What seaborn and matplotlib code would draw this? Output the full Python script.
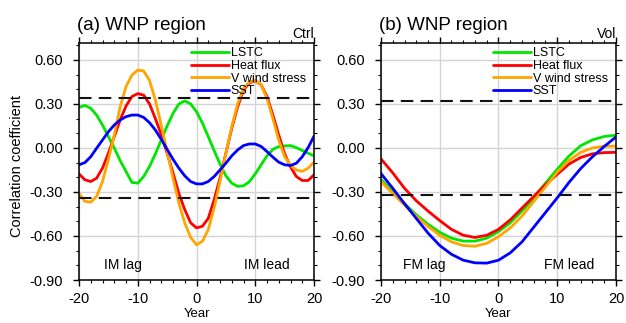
import matplotlib
matplotlib.use("Agg")
import matplotlib.pyplot as plt
from matplotlib.ticker import MultipleLocator
import seaborn as sns
import pandas as pd

# lag/lead years
years_a = list(range(-20, 21))
years_b = list(range(-20, 21, 2))

# (a) Ctrl, one value per year
lstc_a = [0.276, 0.29, 0.27, 0.224, 0.156, 0.077, 0.0, -0.086, -0.16, -0.235, -0.24,
          -0.195, -0.127, -0.04, 0.054, 0.15, 0.235, 0.30, 0.32, 0.30, 0.247,
          0.17, 0.077, -0.018, -0.11, -0.19, -0.24, -0.262, -0.258, -0.23, -0.177,
          -0.115, -0.054, -0.01, 0.01, 0.014, 0.016, 0.002, -0.018, -0.036, -0.054]
heat_a = [-0.177, -0.217, -0.229, -0.206, -0.138, -0.036, 0.077, 0.19, 0.285, 0.35, 0.37,
          0.36, 0.30, 0.20, 0.09, -0.036, -0.17, -0.31, -0.42, -0.51, -0.545,
          -0.534, -0.48, -0.353, -0.206, -0.036, 0.134, 0.28, 0.394, 0.444, 0.457,
          0.43, 0.35, 0.224, 0.088, -0.04, -0.13, -0.195, -0.222, -0.222, -0.183]
vws_a = [-0.31, -0.364, -0.37, -0.33, -0.229, -0.08, 0.088, 0.28, 0.417, 0.496, 0.53,
         0.525, 0.46, 0.326, 0.156, -0.025, -0.206, -0.376, -0.51, -0.61, -0.66,
         -0.636, -0.557, -0.41, -0.229, -0.036, 0.145, 0.30, 0.405, 0.45, 0.46,
         0.43, 0.337, 0.20, 0.054, -0.059, -0.12, -0.15, -0.16, -0.138, -0.097]
sst_a = [-0.115, -0.10, -0.06, -0.002, 0.054, 0.11, 0.156, 0.19, 0.213, 0.224, 0.224,
         0.208, 0.172, 0.122, 0.059, -0.01, -0.077, -0.138, -0.19, -0.229, -0.245,
         -0.245, -0.229, -0.195, -0.15, -0.104, -0.054, -0.014, 0.016, 0.027, 0.027,
         0.01, -0.025, -0.063, -0.097, -0.115, -0.12, -0.104, -0.06, 0.002, 0.08]

# (b) Vol, every 2 years
lstc_b = [-0.215, -0.30, -0.38, -0.455, -0.52, -0.575, -0.615, -0.635, -0.635, -0.615, -0.57,
          -0.51, -0.43, -0.34, -0.24, -0.145, -0.055, 0.015, 0.055, 0.078, 0.087]
heat_b = [-0.075, -0.17, -0.275, -0.36, -0.43, -0.495, -0.555, -0.595, -0.61, -0.595, -0.555,
          -0.49, -0.41, -0.33, -0.25, -0.18, -0.11, -0.065, -0.04, -0.032, -0.03]
vws_b = [-0.23, -0.31, -0.39, -0.465, -0.535, -0.595, -0.64, -0.665, -0.67, -0.65, -0.605,
         -0.545, -0.465, -0.365, -0.265, -0.165, -0.085, -0.03, 0.0, 0.012, 0.012]
sst_b = [-0.175, -0.275, -0.38, -0.48, -0.58, -0.665, -0.725, -0.765, -0.783, -0.785, -0.765,
         -0.715, -0.64, -0.54, -0.44, -0.34, -0.235, -0.14, -0.06, 0.01, 0.075]

names = ["LSTC", "Heat flux", "V wind stress", "SST"]
colors = ["#00e600", "#ff0000", "#ffa500", "#0000ff"]
sig_a = 0.34
sig_b = 0.32
yticks = [-0.9, -0.6, -0.3, 0.0, 0.3, 0.6]


def long_df(years, series):
    rows = []
    for name, vals in zip(names, series):
        for y, v in zip(years, vals):
            rows.append({"year": y, "r": v, "var": name})
    return pd.DataFrame(rows)


df_a = long_df(years_a, [lstc_a, heat_a, vws_a, sst_a])
df_b = long_df(years_b, [lstc_b, heat_b, vws_b, sst_b])

sns.set_theme(style="ticks")
plt.rcParams["font.family"] = ["Liberation Sans", "DejaVu Sans"]
plt.rcParams["axes.unicode_minus"] = False
for key in ("text.color", "axes.labelcolor", "xtick.color", "ytick.color", "axes.edgecolor"):
    plt.rcParams[key] = "black"

fig = plt.figure(figsize=(6.26, 3.23), dpi=100)
ax_a = fig.add_axes([79 / 626, 43 / 323, 235 / 626, 237 / 323])
ax_b = fig.add_axes([381 / 626, 43 / 323, 235 / 626, 237 / 323])

panels = [
    (ax_a, df_a, sig_a, "(a) WNP region", "Ctrl", "IM lag", "IM lead"),
    (ax_b, df_b, sig_b, "(b) WNP region", "Vol", "FM lag", "FM lead"),
]

for ax, df, sig, title, tag, lag, lead in panels:
    ax.grid(True, color="#d4d4d4", linewidth=1.0)
    ax.set_axisbelow(True)
    sns.lineplot(data=df, x="year", y="r", hue="var", hue_order=names,
                 palette=colors, linewidth=2.0, ax=ax)
    for s in (sig, -sig):
        ax.axhline(s, color="#111111", linewidth=1.5, dashes=(6, 3.5), zorder=3)

    ax.set_xlim(-20, 20)
    ax.set_ylim(-0.9, 0.715)
    ax.set_xticks([-20, -10, 0, 10, 20])
    ax.set_yticks(yticks)
    ax.set_yticklabels([f"{t:.2f}" for t in yticks])
    ax.xaxis.set_minor_locator(MultipleLocator(2))
    ax.yaxis.set_minor_locator(MultipleLocator(0.1))
    ax.tick_params(which="major", direction="out", length=4.3, width=1.0,
                   labelsize=10.5, top=True, right=True, color="black")
    ax.tick_params(which="minor", direction="out", length=2.5, width=0.8,
                   top=True, right=True, color="black")
    ax.tick_params(axis="y", which="major", pad=7)
    ax.tick_params(axis="x", which="major", pad=4)
    ax.grid(False, which="minor")
    for sp in ax.spines.values():
        sp.set_linewidth(1.1)
        sp.set_color("black")

    ax.set_xlabel("Year", fontsize=9.5)
    ax.xaxis.set_label_coords(0.5, -0.118)
    ax.xaxis.label.set_va("top")
    ax.set_ylabel("")

    ax.text(-0.009, 1.055, title, transform=ax.transAxes, fontsize=13.5,
            ha="left", va="baseline")
    ax.text(1.0, 1.02, tag, transform=ax.transAxes, fontsize=10,
            ha="right", va="baseline")
    ax.text(-12.6, -0.8, lag, fontsize=10, ha="center", va="center")
    ax.text(12.0, -0.8, lead, fontsize=10, ha="center", va="center")

    handles, labels = ax.get_legend_handles_labels()
    ax.legend(handles, labels, loc="upper left", bbox_to_anchor=(0.46, 1.0),
              frameon=False, fontsize=9, handlelength=3.0, handletextpad=0.15,
              labelspacing=0.05, borderaxespad=0.15, borderpad=0.2)

ax_a.set_ylabel("Correlation coefficient", fontsize=10.5)
ax_a.yaxis.set_label_coords(-0.235, 0.48)

fig.savefig("out.png", dpi=100)
plt.close(fig)
